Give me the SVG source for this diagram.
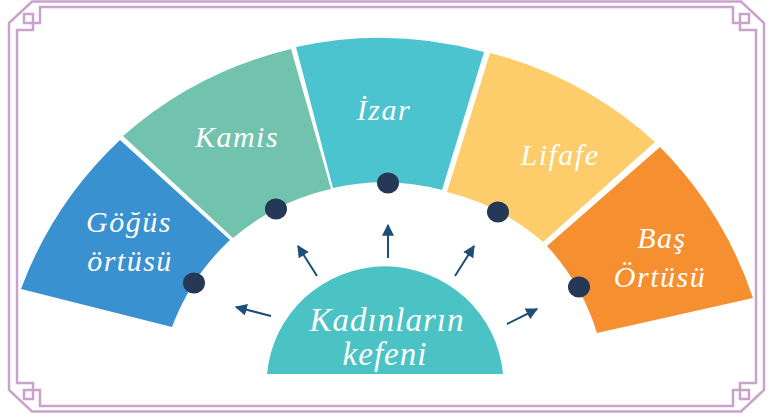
<svg xmlns="http://www.w3.org/2000/svg" width="770" height="420" viewBox="0 0 770 420">
<defs>
<style>
.frame{fill:none;stroke:#c9a3cd;stroke-width:2.5}
.lbl{font-family:"Liberation Serif","Times New Roman",serif;font-style:italic;fill:#ffffff;text-anchor:middle}
.seg{font-size:30px;letter-spacing:1.5px}
.ctr{font-size:33px;letter-spacing:1px}
.dot{fill:#253856}
.arr{stroke:#1b4f7a;stroke-width:2;fill:none;marker-end:url(#ah)}
</style>
<marker id="ah" viewBox="0 0 10 10" refX="9" refY="5" markerWidth="6" markerHeight="6" markerUnits="strokeWidth" orient="auto">
<path d="M0,0 L10,5 L0,10 Z" fill="#1b4f7a"/>
</marker>
</defs>
<rect width="770" height="420" fill="#ffffff"/>
<g id="frame">
<path class="frame" d="M32,1.5 H741 L764,23 V390 L741,411.5 H32 L9,390 V23 Z"/>
<path class="frame" d="M40,7 H733 V23 H749 V14 H740 V30 H756 V383 H740 V399 H749 V390 H733 V406 H40 V390 H24 V399 H33 V383 H17 V30 H33 V14 H24 V23 H40 Z"/>
</g>
<g id="gogus">
<path d="M120,140 A392,392 0 0 0 21,289 L172,327 A228,228 0 0 1 230,240 Z" fill="#3a91cf"/>
<text class="lbl seg" x="129" y="232">Göğüs</text>
<text class="lbl seg" x="130" y="271">örtüsü</text>
</g>
<g id="kamis">
<path d="M123,136 A392,392 0 0 1 291,49 L331,189 A228,228 0 0 0 233,238 Z" fill="#72c3ae"/>
<text class="lbl seg" x="237" y="147">Kamis</text>
</g>
<g id="izar">
<path d="M296,47 A392,392 0 0 1 484,52 L442,190 A228,228 0 0 0 333,188 Z" fill="#4cc4d0"/>
<text class="lbl seg" x="384" y="120">İzar</text>
</g>
<g id="lifafe">
<path d="M490,53 A392,392 0 0 1 655,142 L543,242 A228,228 0 0 0 447,192 Z" fill="#fecd6b"/>
<text class="lbl seg" x="560" y="165">Lifafe</text>
</g>
<g id="bas">
<path d="M660,147 A392,392 0 0 1 753,298 L597,333 A228,228 0 0 0 547,246 Z" fill="#f58f30"/>
<text class="lbl seg" x="662" y="248">Baş</text>
<text class="lbl seg" x="660" y="287">Örtüsü</text>
</g>
<g id="dots">
<ellipse class="dot" cx="194" cy="283" rx="11" ry="10.5"/>
<ellipse class="dot" cx="276" cy="209" rx="11" ry="10.5"/>
<ellipse class="dot" cx="388" cy="183" rx="11" ry="10.5"/>
<ellipse class="dot" cx="498" cy="212" rx="11" ry="10.5"/>
<ellipse class="dot" cx="579" cy="287" rx="11" ry="10.5"/>
</g>
<g id="center">
<path d="M267,374 A118.5,118.5 0 0 1 503,374 Z" fill="#4bc3c4"/>
<text class="lbl ctr" x="387" y="331">Kadınların</text>
<text class="lbl ctr" x="385" y="365">kefeni</text>
</g>
<g id="connectors">
<line class="arr" x1="271" y1="316" x2="236" y2="307"/>
<line class="arr" x1="317" y1="276" x2="298" y2="246"/>
<line class="arr" x1="388" y1="258" x2="388" y2="225"/>
<line class="arr" x1="455" y1="276" x2="474" y2="246"/>
<line class="arr" x1="507" y1="324" x2="537" y2="309"/>
</g>
</svg>
